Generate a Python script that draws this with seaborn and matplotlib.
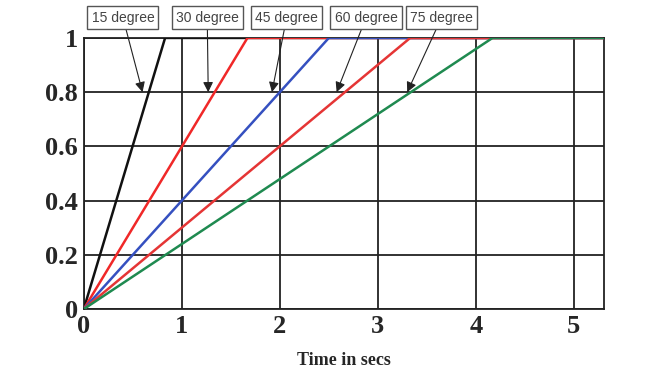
import pandas as pd
import numpy as np
import seaborn as sns
import matplotlib.pyplot as plt

# ramp curves: each goes 0 -> 1, then stays at 1
labels = ["15 degree", "30 degree", "45 degree", "60 degree", "75 degree"]
time_pts = [
    [0, 0.83, 5.31],
    [0, 1.67, 5.31],
    [0, 2.50, 5.31],
    [0, 3.33, 5.31],
    [0, 4.17, 5.31],
]
value_pts = [
    [0, 1, 1],
    [0, 1, 1],
    [0, 1, 1],
    [0, 1, 1],
    [0, 1, 1],
]
colors = ["#111111", "#f02828", "#3550c0", "#e53535", "#1f8a50"]

# where the label arrows point (x at y = 0.8)
arrow_x = [0.60, 1.27, 1.92, 2.58, 3.30]
box_x = [0.40, 1.26, 2.07, 2.88, 3.65]

rows = []
for lab, xs, ys in zip(labels, time_pts, value_pts):
    for i, (x, y) in enumerate(zip(xs, ys)):
        rows.append({"series": lab, "t": x, "v": y, "order": i})
df = pd.DataFrame(rows)

sns.set_style("white")
fig = plt.figure(figsize=(6.54, 3.72), dpi=100)
ax = fig.add_axes([0.128, 0.169, 0.796, 0.729])

sns.lineplot(data=df, x="t", y="v", hue="series", palette=colors,
             sort=False, estimator=None, units="series", legend=False,
             linewidth=1.8, ax=ax, zorder=3)

ax.set_xlim(0, 5.31)
ax.set_ylim(0, 1)
ax.set_xticks([0, 1, 2, 3, 4, 5])
ax.set_yticks([0, 0.2, 0.4, 0.6, 0.8, 1])
ax.set_yticklabels(["0", "0.2", "0.4", "0.6", "0.8", "1"])
ax.grid(True, color="#222222", linewidth=1.3)
for s in ax.spines.values():
    s.set_color("#222222")
    s.set_linewidth(1.3)
ax.tick_params(length=0, pad=4)
for t in ax.get_xticklabels() + ax.get_yticklabels():
    t.set_fontfamily("Liberation Serif")
    t.set_fontweight("bold")
    t.set_fontsize(19)
ax.set_xlabel("Time in secs", fontfamily="Liberation Serif",
              fontweight="bold", fontsize=13, labelpad=10)
ax.set_ylabel("")

for lab, ax_x, bx in zip(labels, arrow_x, box_x):
    ax.annotate(lab, xy=(ax_x, 0.8), xytext=(bx, 1.075),
                textcoords="data", ha="center", va="center",
                fontsize=10, fontfamily="Liberation Sans",
                color="#444444", annotation_clip=False,
                bbox=dict(boxstyle="square,pad=0.3", fc="white",
                          ec="#555555", lw=1),
                arrowprops=dict(arrowstyle="-|>", color="#222222",
                                lw=0.8, mutation_scale=15, shrinkA=0,
                                shrinkB=0))

fig.savefig("out.png", dpi=100)
